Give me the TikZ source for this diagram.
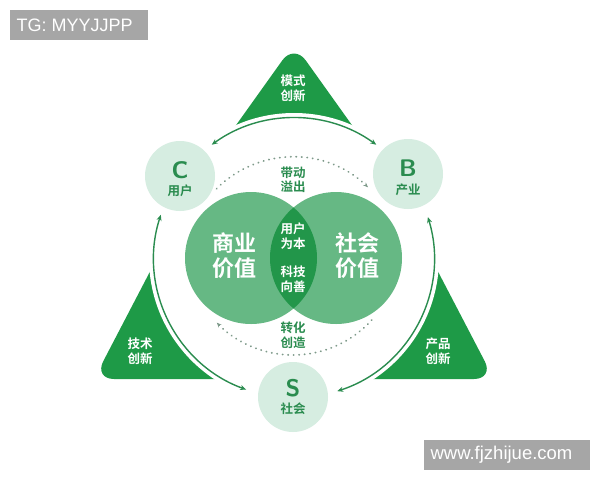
\documentclass[tikz,border=0pt]{standalone}
\usepackage{fontspec}
\setmainfont{Liberation Sans}
\newfontfamily\cjk{Noto Sans CJK SC}
\newfontfamily\cjkb{Noto Sans CJK SC Bold}
\usetikzlibrary{arrows.meta}
\definecolor{tri}{HTML}{1E9A47}
\definecolor{venn}{HTML}{66B884}
\definecolor{lens}{HTML}{22964A}
\definecolor{soft}{HTML}{D6EDE1}
\definecolor{dgreen}{HTML}{2A8C4F}
\definecolor{dots}{HTML}{7E9A8A}
\definecolor{tagbg}{HTML}{A6A6A6}
\begin{document}
\begin{tikzpicture}[x=1pt,y=-1pt,
  tag/.style={fill=tagbg,text=white,inner sep=0pt,anchor=north west},
  bigarc/.style={draw=dgreen,line width=1.4pt,{Stealth[length=6pt,width=5pt]}-{Stealth[length=6pt,width=5pt]}},
  arcgap/.style={draw=white,line width=5pt},
  dotarc/.style={draw=dots,line width=1.8pt,line cap=round,dash pattern=on 0.3pt off 5.2pt,-{Stealth[length=5pt,width=4pt,line cap=butt]}},
  softc/.style={circle,fill=soft,minimum size=70pt,inner sep=0pt},
  bigletter/.style={text=dgreen,font=\sffamily\bfseries\fontsize{24}{24}\selectfont},
  small/.style={font=\cjkb\fontsize{12.5}{14.5}\selectfont,align=center},
  wsmall/.style={small,text=white},
  gsmall/.style={small,text=dgreen},
  venntext/.style={text=white,align=center,font=\cjkb\fontsize{22}{25}\selectfont}]
\useasboundingbox (0,0) rectangle (600,480);
\fill[white] (0,0) rectangle (600,480);
\coordinate (O) at (294,258);

% corner triangles
\fill[tri,rounded corners=20pt] (214,156) -- (294,44) -- (374,156) -- cycle;
\fill[tri,rounded corners=20pt] (180,214) -- (94,379) -- (285,379) -- cycle;
\fill[tri,rounded corners=20pt] (408,214) -- (494,379) -- (303,379) -- cycle;
\fill[white] (O) circle (145);

% outer arcs
\draw[arcgap] ([shift={(-54:140)}]O) arc[start angle=-54,end angle=-126,radius=140];
\draw[arcgap] ([shift={(-162:140)}]O) arc[start angle=-162,end angle=-250,radius=140];
\draw[arcgap] ([shift={(-17:140)}]O) arc[start angle=-17,end angle=72,radius=140];
\draw[bigarc] ([shift={(-126:140)}]O) arc[start angle=-126,end angle=-54,radius=140];
\draw[bigarc] ([shift={(-162:140)}]O) arc[start angle=-162,end angle=-250,radius=140];
\draw[bigarc] ([shift={(-17:140)}]O) arc[start angle=-17,end angle=72,radius=140];

% dotted arcs
\coordinate (T) at (293,265);
\coordinate (Bt) at (293,249);
\draw[dotarc] ([shift={(-135:108)}]T) arc[start angle=-135,end angle=-46,radius=108];
\draw[dotarc] ([shift={(42:106)}]Bt) arc[start angle=42,end angle=136,radius=106];

% venn
\fill[venn] (251,258) circle (66);
\fill[venn] (336,258) circle (66);
\begin{scope}
  \clip (251,258) circle (66);
  \fill[lens] (336,258) circle (66);
\end{scope}

% small circles
\node[softc] (C) at (180,176) {};
\node[softc] (B) at (408,174) {};
\node[softc] (S) at (293,397) {};
\node[bigletter] (Cl) at (180,170) {C};
\node[gsmall] (Ct) at (180,191) {用户};
\node[bigletter] (Bl) at (408,168) {B};
\node[gsmall] (Bt2) at (408,190) {产业};
\node[bigletter] (Sl) at (293,388) {S};
\node[gsmall] (St) at (293,409) {社会};

% texts
\node[venntext] (L) at (234,256) {商业\\价值};
\node[venntext] (R) at (357,256) {社会\\价值};
\node[wsmall] (M1) at (293,236) {用户\\为本};
\node[wsmall] (M2) at (293,279) {科技\\向善};
\node[gsmall] (D1) at (293,180) {带动\\溢出};
\node[gsmall] (D2) at (293,335) {转化\\创造};
\node[wsmall] (T1) at (293,88) {模式\\创新};
\node[wsmall] (T2) at (140,351) {技术\\创新};
\node[wsmall] (T3) at (438,351) {产品\\创新};

% tags
\node[tag,minimum width=138pt,minimum height=30pt] (tg) at (10,10) {};
\node[text=white,font=\fontsize{18}{20}\selectfont,anchor=west] (tgt) at (13,25) {TG: MYYJJPP};
\node[tag,minimum width=166pt,minimum height=30pt] (ww) at (424,440) {};
\node[text=white,font=\fontsize{18.5}{20}\selectfont,anchor=west] (wwt) at (427,455) {www.fjzhijue.com};
\end{tikzpicture}
\end{document}
